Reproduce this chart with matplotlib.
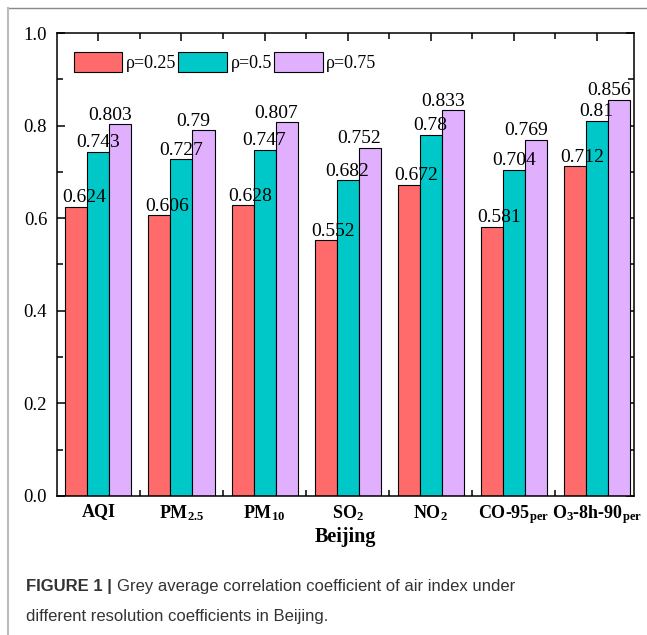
import numpy as np
import matplotlib
matplotlib.use('Agg')
import matplotlib.pyplot as plt
from matplotlib.lines import Line2D
from matplotlib.ticker import MultipleLocator, FixedLocator

plt.rcParams['font.family'] = ['Liberation Serif', 'DejaVu Serif']
plt.rcParams['mathtext.fontset'] = 'custom'
plt.rcParams['mathtext.rm'] = 'Liberation Serif'
plt.rcParams['mathtext.bf'] = 'Liberation Serif:bold'
plt.rcParams['mathtext.default'] = 'bf'

# ============================ data ========================================
categories = ['AQI', 'PM$_{2.5}$', 'PM$_{10}$', 'SO$_2$', 'NO$_2$',
              'CO-95$_{per}$', 'O$_3$-8h-90$_{per}$']
series_names = ['ρ=0.25', 'ρ=0.5', 'ρ=0.75']
rho_025 = [0.624, 0.606, 0.628, 0.552, 0.672, 0.581, 0.712]
rho_050 = [0.743, 0.727, 0.747, 0.682, 0.78, 0.704, 0.81]
rho_075 = [0.803, 0.79, 0.807, 0.752, 0.833, 0.769, 0.856]
lab_025 = ['0.624', '0.606', '0.628', '0.552', '0.672', '0.581', '0.712']
lab_050 = ['0.743', '0.727', '0.747', '0.682', '0.78', '0.704', '0.81']
lab_075 = ['0.803', '0.79', '0.807', '0.752', '0.833', '0.769', '0.856']

colors = ['#FF6B6B', '#00C8C8', '#E0B0FF']
xlab_off = [0.09, 0.0, -0.12]   # Origin-like label shift

fig = plt.figure(figsize=(6.47, 6.35), dpi=100)
ax = fig.add_axes([0.088, 0.219, 0.892, 0.729])

x = np.arange(len(categories))
w = 0.265
for i, (vals, labs) in enumerate(zip([rho_025, rho_050, rho_075], [lab_025, lab_050, lab_075])):
    xpos = x + (i - 1) * w
    ax.bar(xpos, vals, w, color=colors[i], edgecolor='k', linewidth=0.8, label=series_names[i], zorder=2)
    for xp, v, s in zip(xpos, vals, labs):
        ax.annotate(s, (xp + xlab_off[i], v), xytext=(0, 0.5), textcoords='offset points',
                    ha='center', va='bottom', fontsize=14, zorder=3)

ax.set_xlim(-0.5, 6.45)
ax.set_ylim(0, 1.0)
ax.set_xticks(x)
ax.set_xticklabels(categories, fontweight='bold', fontsize=13)
ax.xaxis.set_minor_locator(FixedLocator(x[:-1] + 0.5))
ax.yaxis.set_major_locator(MultipleLocator(0.2))
ax.yaxis.set_minor_locator(MultipleLocator(0.1))
ax.set_yticks(np.arange(0, 1.01, 0.2))
ax.set_yticklabels(['%.1f' % t for t in np.arange(0, 1.01, 0.2)], fontsize=13.5)
ax.tick_params(which='both', direction='in', top=True, right=True, width=1.1)
ax.tick_params(which='major', length=6)
ax.tick_params(which='minor', length=4)
ax.tick_params(axis='y', pad=7)
ax.tick_params(axis='x', pad=5)
for sp in ax.spines.values():
    sp.set_linewidth(1.1)
ax.set_xlabel('Beijing', fontweight='bold', fontsize=14.5, labelpad=1)

ax.legend(loc='upper left', bbox_to_anchor=(0.029, 0.958), ncol=3, frameon=False,
          fontsize=13, handlelength=2.7, handleheight=1.3, handletextpad=0.2,
          columnspacing=0.1, borderpad=0, borderaxespad=0)

# frame of the figure panel
fig.add_artist(Line2D([8 / 647, 1], [1 - 8 / 635, 1 - 8 / 635], color='#888888', linewidth=1.0))
fig.add_artist(Line2D([8 / 647, 8 / 647], [0, 1 - 8 / 635], color='#bbbbbb', linewidth=1.5))

# caption
cap_kw = dict(family=['Liberation Sans', 'DejaVu Sans'], fontsize=12, color='#333333', va='center')
t1 = fig.text(26 / 647, 1 - 587 / 635, 'FIGURE 1 |', fontweight='bold', **cap_kw)
fig.canvas.draw()
bb = t1.get_window_extent()
fig.text(bb.x1 / 647 + 5 / 647, 1 - 587 / 635, 'Grey average correlation coefficient of air index under', **cap_kw)
fig.text(26 / 647, 1 - 617 / 635, 'different resolution coefficients in Beijing.', **cap_kw)

plt.savefig('out.png', dpi=100)
